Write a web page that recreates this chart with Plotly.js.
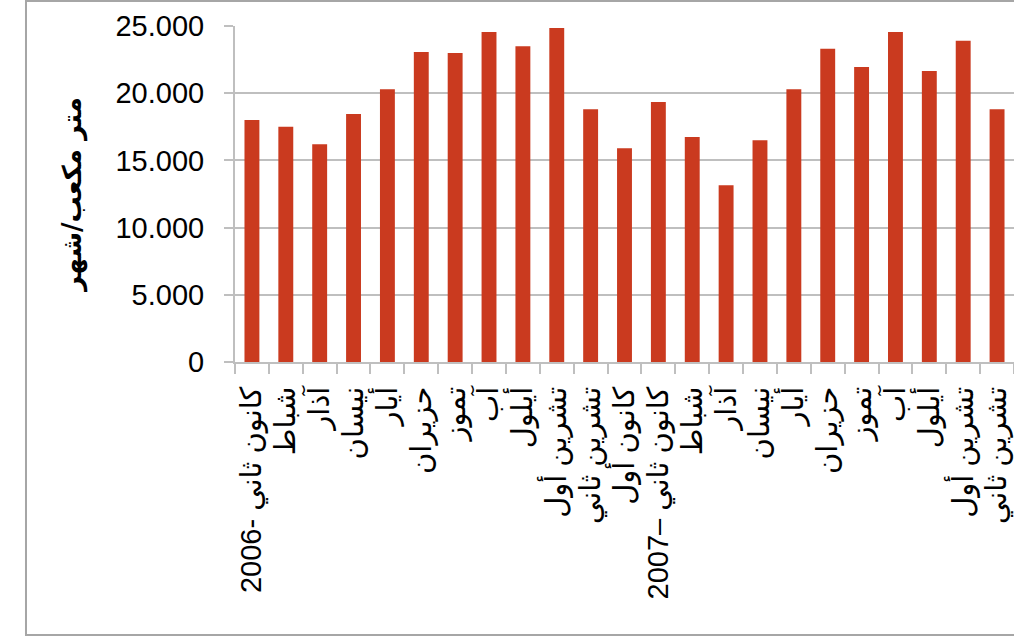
<!DOCTYPE html>
<html>
<head>
<meta charset="utf-8">
<script src="https://cdn.plot.ly/plotly-3.0.1.min.js"></script>
<style>
html,body{margin:0;padding:0;background:#fff;}
#chart{width:1014px;height:638px;}
</style>
</head>
<body>
<div id="chart"></div>
<script>
// Month labels (Jan 2006 – Nov 2007)
var monthLabels = [
  "كانون ثاني -2006", "شباط", "آذار", "نيسان", "أيار", "حزيران", "تموز", "آب", "أيلول",
  "تشرين أول", "تشرين ثاني", "كانون أول", "كانون ثاني –2007", "شباط", "آذار", "نيسان",
  "أيار", "حزيران", "تموز", "آب", "أيلول", "تشرين أول", "تشرين ثاني"
];
// Monthly volume, cubic metres per month
var monthlyVolume = [
  18000, 17500, 16200, 18450, 20300, 23070, 23000, 24550, 23500,
  24850, 18800, 15900, 19350, 16750, 13150, 16500,
  20300, 23300, 21950, 24550, 21650, 23900, 18800
];
var yTitle = "متر مكعب/شهر";

var ids = monthLabels.map(function(_, i){ return "m" + i; });

var trace = {
  type: "bar",
  x: ids,
  y: monthlyVolume,
  marker: {color: "#CA3A1F"},
  hoverinfo: "skip"
};

var grey = "#BFBFBF";
var layout = {
  width: 1014, height: 638,
  margin: {l: 235, r: 0, t: 26, b: 276},
  paper_bgcolor: "#FFFFFF",
  plot_bgcolor: "#FFFFFF",
  separators: ",.",
  showlegend: false,
  bargap: 0.56,
  font: {family: "Liberation Sans, Arial, DejaVu Sans, sans-serif", color: "#000000"},
  xaxis: {
    type: "category",
    categoryorder: "array",
    categoryarray: ids,
    tickmode: "array",
    tickvals: ids,
    ticktext: monthLabels,
    tickson: "boundaries",
    ticks: "outside",
    ticklen: 10,
    tickwidth: 2,
    tickcolor: grey,
    showline: true,
    linecolor: grey,
    linewidth: 2,
    tickangle: -90,
    tickfont: {size: 29, family: "Liberation Sans, Arial, DejaVu Sans, sans-serif"},
    ticklabelstandoff: 11,
    showgrid: false,
    zeroline: false,
    fixedrange: true
  },
  yaxis: {
    range: [0, 25000],
    tickmode: "linear",
    tick0: 0,
    dtick: 5000,
    tickformat: ",d",
    ticks: "outside",
    ticklen: 9,
    tickwidth: 2,
    tickcolor: grey,
    showline: true,
    linecolor: grey,
    linewidth: 2,
    showgrid: true,
    gridcolor: grey,
    gridwidth: 2,
    zeroline: false,
    tickfont: {size: 29, family: "Liberation Sans, Arial, sans-serif"},
    ticklabelstandoff: 14,
    title: {
      text: "<b>" + yTitle + "</b>",
      font: {size: 26, family: "DejaVu Sans, sans-serif"},
      standoff: 26
    },
    fixedrange: true
  },
  shapes: [{
    type: "rect",
    xref: "paper", yref: "paper",
    x0: -0.2683, x1: 1.05,
    y0: -0.8125, y1: 1.0744,
    line: {color: "#A6A6A6", width: 2},
    fillcolor: "rgba(0,0,0,0)",
    layer: "below"
  }]
};

Plotly.newPlot("chart", [trace], layout, {displayModeBar: false, staticPlot: true});
</script>
</body>
</html>
